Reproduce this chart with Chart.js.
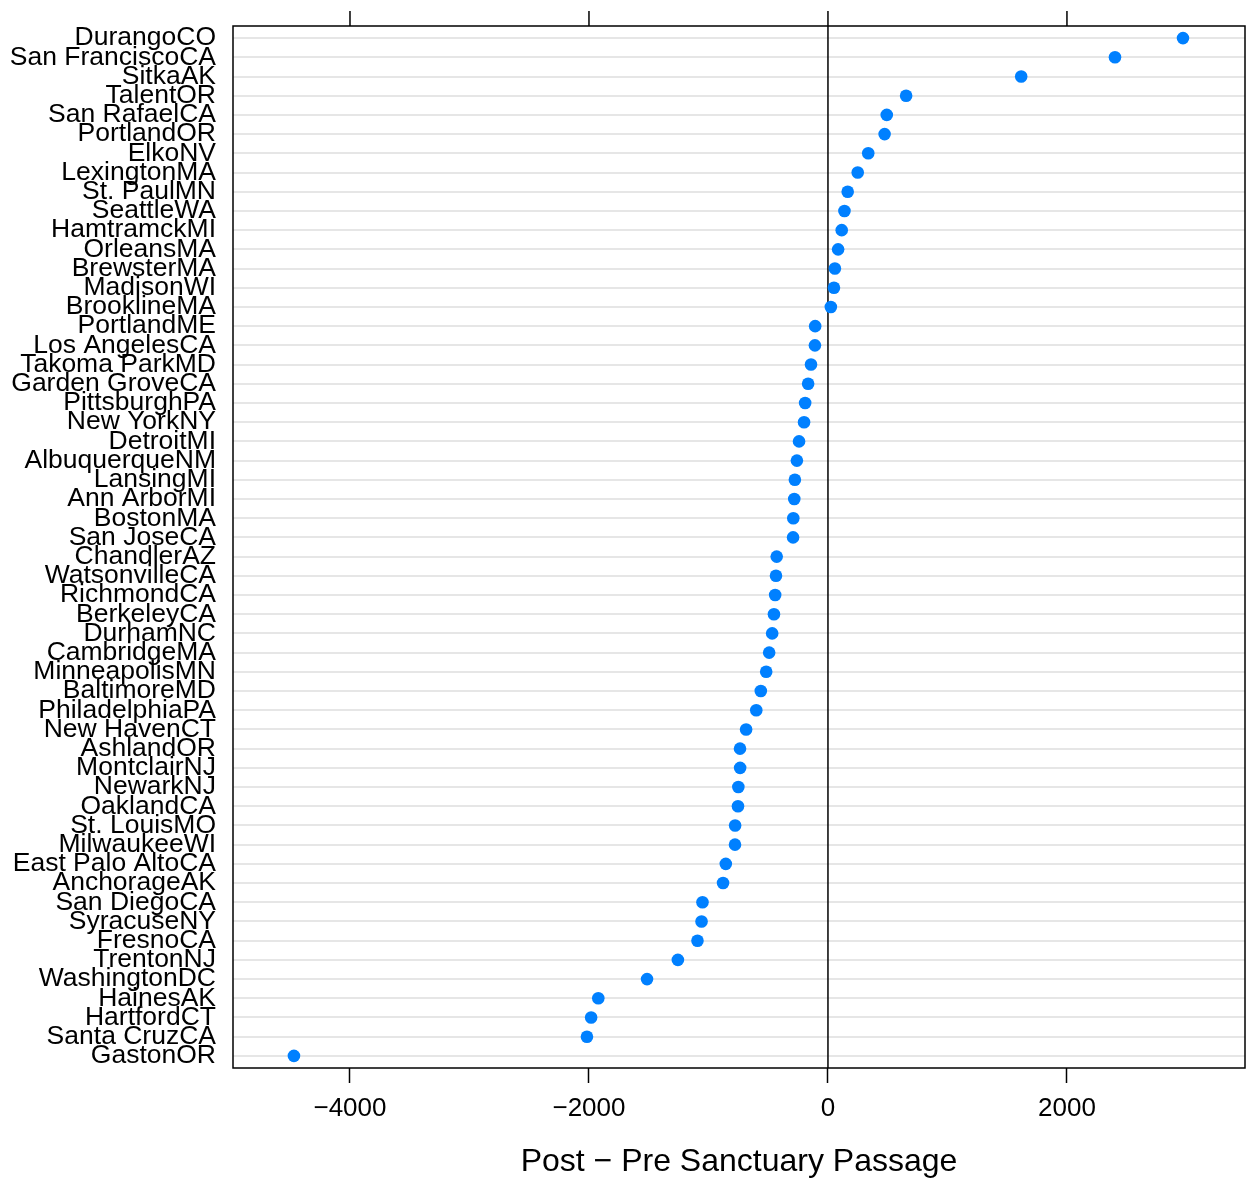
<!DOCTYPE html>
<html>
<head>
<meta charset="utf-8">
<script src="https://cdn.jsdelivr.net/npm/chart.js@4"></script>
<style>
  body { margin: 0; background: #fff; }
  .chart-container { width: 1253px; height: 1178px; position: relative; }
</style>
</head>
<body>
<div class="chart-container">
  <canvas id="dot-chart"></canvas>
</div>
<script>
// cities, top to bottom
const cities = [
  'DurangoCO', 'San FranciscoCA', 'SitkaAK', 'TalentOR', 'San RafaelCA', 'PortlandOR',
  'ElkoNV', 'LexingtonMA', 'St. PaulMN', 'SeattleWA', 'HamtramckMI', 'OrleansMA',
  'BrewsterMA', 'MadisonWI', 'BrooklineMA', 'PortlandME', 'Los AngelesCA', 'Takoma ParkMD',
  'Garden GroveCA', 'PittsburghPA', 'New YorkNY', 'DetroitMI', 'AlbuquerqueNM', 'LansingMI',
  'Ann ArborMI', 'BostonMA', 'San JoseCA', 'ChandlerAZ', 'WatsonvilleCA', 'RichmondCA',
  'BerkeleyCA', 'DurhamNC', 'CambridgeMA', 'MinneapolisMN', 'BaltimoreMD', 'PhiladelphiaPA',
  'New HavenCT', 'AshlandOR', 'MontclairNJ', 'NewarkNJ', 'OaklandCA', 'St. LouisMO',
  'MilwaukeeWI', 'East Palo AltoCA', 'AnchorageAK', 'San DiegoCA', 'SyracuseNY', 'FresnoCA',
  'TrentonNJ', 'WashingtonDC', 'HainesAK', 'HartfordCT', 'Santa CruzCA', 'GastonOR'
];

// post - pre sanctuary passage
const diffs = [
  2971, 2402, 1617, 654, 492, 474,
  337, 249, 165, 138, 115, 85,
  58, 50, 24, -107, -109, -142,
  -166, -191, -200, -242, -260, -277,
  -282, -290, -292, -429, -435, -442,
  -452, -467, -492, -517, -562, -600,
  -685, -736, -735, -750, -753, -777,
  -778, -855, -878, -1050, -1058, -1092,
  -1256, -1514, -1922, -1982, -2017, -4469
];

const xTicks = [-4000, -2000, 0, 2000];
const xMin = -4979;
const xMax = 3490;

const FONT = "'Liberation Sans', Arial, Helvetica, sans-serif";

// box, zero line and top ticks
const framePlugin = {
  id: 'frame',
  beforeDatasetsDraw(chart) {
    const { ctx, chartArea, scales } = chart;
    const x0 = scales.x.getPixelForValue(0);
    ctx.save();
    ctx.strokeStyle = '#000';
    ctx.lineWidth = 1.5;
    ctx.beginPath();
    ctx.moveTo(x0, chartArea.top);
    ctx.lineTo(x0, chartArea.bottom);
    ctx.stroke();
    ctx.restore();
  },
  afterDraw(chart) {
    const { ctx, chartArea, scales } = chart;
    ctx.save();
    ctx.strokeStyle = '#000';
    ctx.lineWidth = 1.5;
    ctx.strokeRect(chartArea.left, chartArea.top,
      chartArea.right - chartArea.left, chartArea.bottom - chartArea.top);
    ctx.beginPath();
    xTicks.forEach((v) => {
      const px = scales.x.getPixelForValue(v);
      ctx.moveTo(px, chartArea.top);
      ctx.lineTo(px, chartArea.top - 15);
    });
    ctx.stroke();
    ctx.restore();
  }
};

new Chart(document.getElementById('dot-chart'), {
  type: 'scatter',
  data: {
    datasets: [{
      data: diffs.map((v, i) => ({ x: v, y: i })),
      backgroundColor: '#0080ff',
      borderWidth: 0,
      pointRadius: 6.3,
      pointHoverRadius: 6.3
    }]
  },
  options: {
    responsive: true,
    maintainAspectRatio: false,
    animation: false,
    layout: { padding: { top: 26, right: 8, left: 0, bottom: 0 } },
    plugins: {
      legend: { display: false },
      tooltip: { enabled: false }
    },
    scales: {
      x: {
        type: 'linear',
        min: xMin,
        max: xMax,
        afterBuildTicks: (scale) => { scale.ticks = xTicks.map((v) => ({ value: v })); },
        afterFit: (scale) => {
          scale.height = 110;
          scale.paddingLeft = 0;
          scale.paddingRight = 0;
        },
        border: { display: false },
        grid: {
          drawOnChartArea: false,
          drawTicks: true,
          tickLength: 15,
          tickColor: '#000',
          tickWidth: 1.5
        },
        ticks: {
          color: '#000',
          padding: 10,
          font: { family: FONT, size: 26 },
          callback: (v) => (v < 0 ? '\u2212' + Math.abs(v) : String(v))
        },
        title: {
          display: true,
          text: 'Post \u2212 Pre Sanctuary Passage',
          color: '#000',
          font: { family: FONT, size: 32, lineHeight: 1.0 },
          padding: { top: 0, bottom: 0 }
        }
      },
      y: {
        type: 'linear',
        reverse: true,
        min: -0.63,
        max: cities.length - 1 + 0.63,
        afterBuildTicks: (scale) => { scale.ticks = cities.map((c, i) => ({ value: i })); },
        afterFit: (scale) => {
          scale.width = 233;
          scale.paddingTop = 0;
          scale.paddingBottom = 0;
        },
        border: { display: false },
        grid: {
          drawTicks: false,
          color: '#e6e6e6',
          lineWidth: 2
        },
        ticks: {
          autoSkip: false,
          color: '#000',
          padding: 17,
          font: { family: FONT, size: 26.5 },
          callback: (v) => cities[v]
        }
      }
    }
  },
  plugins: [framePlugin]
});
</script>
</body>
</html>
